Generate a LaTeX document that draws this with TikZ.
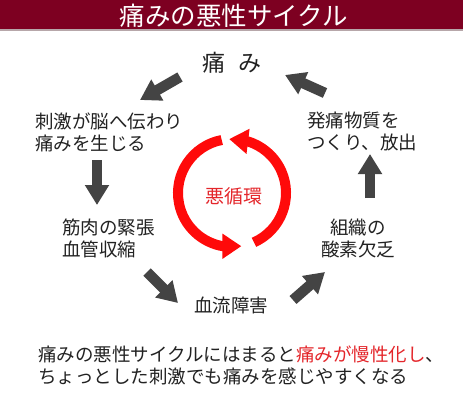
\documentclass[tikz,border=0pt]{standalone}
\usepackage{fontspec}
\usepackage{xcolor}
\usepackage{tikz}
\usetikzlibrary{arrows.meta, positioning, calc, bending}
\setmainfont{Noto Sans CJK JP}
\definecolor{ctitle}{HTML}{7D0021}
\definecolor{cline}{HTML}{B7A7AA}
\definecolor{carrow}{HTML}{444444}
\definecolor{ccycle}{HTML}{FF0A0A}
\definecolor{tred}{HTML}{E4262B}
\definecolor{ctext}{HTML}{222222}

\begin{document}
\begin{tikzpicture}[
    x=1pt, y=1pt,
    label/.style={inner sep=0pt, text=ctext, font=\fontsize{18.5}{22}\selectfont},
    block/.style={-{Triangle[width=23pt, length=20pt]}, carrow, line width=10.5pt},
    cycle/.style={-{Triangle[width=24pt, length=19pt, flex]}, ccycle, line width=10pt}
]
\useasboundingbox[fill=white] (0,0) rectangle (463,-412);

% Title bar
\fill[ctitle] (0,0) rectangle (463,-29);
\draw[cline, line width=1.5pt] (0,-30) -- (463,-30);
\node[inner sep=0pt, text=white, font=\fontsize{25.5}{28}\selectfont] (title) at (234,-16) {痛みの悪性サイクル};

% Cycle steps
\node[label, font=\fontsize{23}{26}\selectfont] (pain) at (232,-63) {痛\hspace{0.6em}み};
\node[label, anchor=west, align=left] (stim) at (35,-132) {刺激が脳へ伝わり\\痛みを生じる};
\node[label, anchor=west, align=left] (muscle) at (62,-238) {筋肉の緊張\\血管収縮};
\node[label] (blood) at (231,-305) {血流障害};
\node[label, align=center] (oxygen) at (358,-238) {組織の\\酸素欠乏};
\node[label, anchor=west, align=left] (release) at (307,-131) {発痛物質を\\つくり、放出};

% Centre
\coordinate (c) at (232,-193);
\node[inner sep=0pt, text=tred, font=\fontsize{19}{22}\selectfont] (vicious) at (234,-196) {悪循環};

% Arrow ends
\coordinate (a1s) at (180,-77);  \coordinate (a1e) at (140,-100);
\coordinate (a2s) at (325,-93);  \coordinate (a2e) at (285,-75);
\coordinate (a3s) at (97,-160);  \coordinate (a3e) at (97,-205);
\coordinate (a4s) at (147,-272); \coordinate (a4e) at (178,-303);
\coordinate (a5s) at (293,-300); \coordinate (a5e) at (325,-272);
\coordinate (a6s) at (370,-198); \coordinate (a6e) at (370,-154);

% Arrows
\begin{scope}[every path/.style={block}]
    \draw (a1s) -- (a1e);
    \draw (a2s) -- (a2e);
    \draw (a3s) -- (a3e);
    \draw (a4s) -- (a4e);
    \draw (a5s) -- (a5e);
    \draw (a6s) -- (a6e);
\end{scope}

% Red loop
\draw[cycle] ($(c)+(101:54)$) arc[start angle=101, end angle=280, radius=54];
\draw[cycle] ($(c)+(-66:54)$) arc[start angle=-66, end angle=93, radius=54];

% Note
\node[label, anchor=west, align=left] (note) at (38,-365)
    {痛みの悪性サイクルにはまると\textcolor{tred}{痛みが慢性化し}、\\ちょっとした刺激でも痛みを感じやすくなる};

\end{tikzpicture}
\end{document}
